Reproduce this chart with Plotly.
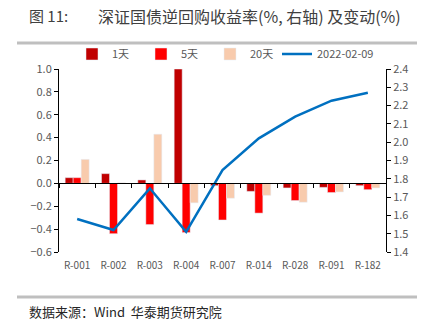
import plotly.graph_objects as go

categories = ["R-001", "R-002", "R-003", "R-004", "R-007", "R-014", "R-028", "R-091", "R-182"]
chg_1d = [0.05, 0.085, 0.03, 1.0, -0.02, -0.07, -0.04, -0.035, -0.02]
chg_5d = [0.05, -0.44, -0.36, -0.43, -0.32, -0.26, -0.15, -0.08, -0.055]
chg_20d = [0.21, 0.005, 0.43, -0.17, -0.13, -0.105, -0.165, -0.075, -0.04]
rate_0209 = [1.58, 1.52, 1.748, 1.51, 1.848, 2.021, 2.14, 2.227, 2.27]

FONT = "Noto Sans CJK SC"
GRAY = "#595959"

fig = go.Figure()
fig.add_trace(go.Bar(x=categories, y=chg_1d, name="1天", marker_color="#C00000"))
fig.add_trace(go.Bar(x=categories, y=chg_5d, name="5天", marker_color="#FF0000"))
fig.add_trace(go.Bar(x=categories, y=chg_20d, name="20天", marker_color="#F8CBAD"))
fig.add_trace(go.Scatter(x=categories, y=rate_0209, name="2022-02-09", mode="lines",
                         line=dict(color="#0070C0", width=2.5), yaxis="y2",
                         legend="legend2"))
# helper trace to carry the category ticks on the zero line axis
fig.add_trace(go.Scatter(x=categories, y=[None] * len(categories), xaxis="x2",
                         showlegend=False, hoverinfo="skip"))

W, H = 434, 329
L, R, T, B = 59, 386, 69, 252

def px(x):
    return (x - L) / (R - L)

def py(y):
    return (B - y) / (B - T)

zero_pos = 0.6 / 1.6  # fraction of y domain where 0 sits

fig.update_layout(
    width=W, height=H,
    margin=dict(l=L, r=W - R, t=T, b=H - B),
    paper_bgcolor="white", plot_bgcolor="white",
    barmode="group", bargap=0.34, bargroupgap=0,
    font=dict(family=FONT, size=11, color=GRAY),
    showlegend=True,
    legend=dict(orientation="h", x=px(72), xanchor="left", y=py(54), yanchor="middle",
                font=dict(size=11, color=GRAY), itemwidth=30, traceorder="normal",
                entrywidth=24, entrywidthmode="pixels",
                bgcolor="rgba(0,0,0,0)"),
    legend2=dict(orientation="h", x=px(277), xanchor="left", y=py(54), yanchor="middle",
                 font=dict(size=11, color=GRAY), itemwidth=30,
                 bgcolor="rgba(0,0,0,0)"),
    xaxis=dict(type="category", showline=False, ticks="", showgrid=False,
               tickfont=dict(size=10, color=GRAY), range=[-0.5, 8.5],
               ticklabelstandoff=6),
    xaxis2=dict(type="category", overlaying="x", anchor="free", position=zero_pos,
                showline=True, linecolor="black", linewidth=1, ticks="outside",
                tickson="boundaries", ticklen=4, tickcolor="black",
                showticklabels=False, showgrid=False, range=[-0.5, 8.5]),
    yaxis=dict(range=[-0.6, 1.0], dtick=0.2, tickformat=".1f", showgrid=False,
               zeroline=False, showline=True, linecolor="black", linewidth=1,
               ticks="outside", ticklen=4, tickcolor="black",
               tickfont=dict(size=11, color=GRAY)),
    yaxis2=dict(range=[1.4, 2.4], dtick=0.1, tickformat=".1f", overlaying="y",
                side="right", showgrid=False, zeroline=False, showline=True,
                linecolor="black", linewidth=1, ticks="outside", ticklen=4,
                tickcolor="black", tickfont=dict(size=11, color=GRAY)),
)

# separators
for yy in (43, 297):
    fig.add_shape(type="line", xref="paper", yref="paper", x0=px(17), x1=px(417),
                  y0=py(yy), y1=py(yy), line=dict(color="#BFBFBF", width=3))

fig.add_annotation(text="图 11:", xref="paper", yref="paper", x=px(27), y=py(16),
                   xanchor="left", yanchor="middle", showarrow=False,
                   font=dict(family=FONT, size=15, color="#404040"))
fig.add_annotation(text="深证国债逆回购收益率(%, 右轴) 及变动(%)", xref="paper", yref="paper",
                   x=px(96), y=py(16), xanchor="left", yanchor="middle", showarrow=False,
                   font=dict(family=FONT, size=16, color="#404040"))
fig.add_annotation(text="数据来源：Wind  华泰期货研究院", xref="paper", yref="paper",
                   x=px(27), y=py(311), xanchor="left", yanchor="middle", showarrow=False,
                   font=dict(family=FONT, size=13, color="#262626"))

fig.write_html("out.html")
